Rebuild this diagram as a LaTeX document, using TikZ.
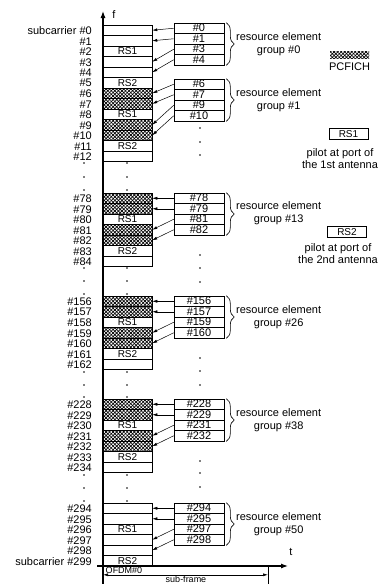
\documentclass[tikz,border=0pt]{standalone}
\usepackage{fontspec}
\setmainfont{Liberation Sans}
\usetikzlibrary{patterns.meta,decorations.pathreplacing,arrows.meta}
\begin{document}
\begin{tikzpicture}[x=1pt,y=-1pt,
  every node/.style={font=\fontsize{11}{12}\selectfont, inner sep=0pt},
  cell/.style={draw, line width=0.5pt, minimum width=49pt, minimum height=10.5pt, text height=7pt, text depth=0pt, font=\fontsize{10}{12}\selectfont},
  hatchfill/.style={pattern={Lines[angle=45,distance=2.5pt,line width=0.7pt]}, postaction={pattern={Lines[angle=-45,distance=2.5pt,line width=0.7pt]}}},
  hcell/.style={cell, hatchfill},
  rcell/.style={draw, line width=0.6pt, minimum width=50pt, minimum height=10.5pt, text height=7pt, text depth=0pt, font=\fontsize{11}{12}\selectfont},
  lab/.style={anchor=east},
  conn/.style={line width=0.5pt, -{Latex[length=5pt,width=3pt]}},
  axisline/.style={line width=1.1pt},
  brc/.style={decorate, decoration={brace, amplitude=8pt}, line width=0.6pt},
  desc/.style={anchor=west, align=center, font=\fontsize{11}{13.5}\selectfont},
  legbox/.style={draw, line width=0.6pt, minimum width=39pt, minimum height=11pt, text height=7pt, text depth=0pt, font=\fontsize{10}{12}\selectfont},
]
\useasboundingbox (0,0) rectangle (378,584);

% ---------- main column: group 0 ----------
\foreach \k/\st/\tx [count=\c from 0] in {0/cell/{},1/cell/{},2/cell/RS1,3/cell/{},4/cell/{},5/cell/RS2,6/hcell/{},7/hcell/{},8/cell/RS1,9/hcell/{},10/hcell/{},11/cell/RS2,12/cell/{}}
  \node[\st] (m\k) at (127.5,{25+5.25+10.5*\c}) {\tx};
\node[lab] (l0) at (92,30.75) {subcarrier \#0};
\foreach \k [count=\c from 1] in {1,...,12}
  \node[lab] (l\k) at (92,{25+5.75+10.5*\c}) {\#\k};

% ---------- groups 1..3 ----------
\foreach \k/\st/\tx [count=\c from 0] in {78/hcell/{},79/hcell/{},80/cell/RS1,81/hcell/{},82/hcell/{},83/cell/RS2,84/cell/{}}
  \node[\st] (m\k) at (127.5,{193+5.25+10.5*\c}) {\tx};
\foreach \k [count=\c from 0] in {78,...,84}
  \node[lab] (l\k) at (92,{193+5.75+10.5*\c}) {\#\k};

\foreach \k/\st/\tx [count=\c from 0] in {156/hcell/{},157/hcell/{},158/cell/RS1,159/hcell/{},160/hcell/{},161/cell/RS2,162/cell/{}}
  \node[\st] (m\k) at (127.5,{296+5.25+10.5*\c}) {\tx};
\foreach \k [count=\c from 0] in {156,...,162}
  \node[lab] (l\k) at (92,{296+5.75+10.5*\c}) {\#\k};

\foreach \k/\st/\tx [count=\c from 0] in {228/hcell/{},229/hcell/{},230/cell/RS1,231/hcell/{},232/hcell/{},233/cell/RS2,234/cell/{}}
  \node[\st] (m\k) at (127.5,{399+5.25+10.5*\c}) {\tx};
\foreach \k [count=\c from 0] in {228,...,234}
  \node[lab] (l\k) at (92,{399+5.75+10.5*\c}) {\#\k};

% ---------- group 4 ----------
\foreach \k/\st/\tx [count=\c from 0] in {294/cell/{},295/cell/{},296/cell/RS1,297/cell/{},298/cell/{},299/cell/RS2}
  \node[\st] (m\k) at (127.5,{503+5.25+10.5*\c}) {\tx};
\foreach \k [count=\c from 0] in {294,...,298}
  \node[lab] (l\k) at (92,{503+5.75+10.5*\c}) {\#\k};
\node[lab] (l299) at (92,561.25) {subcarrier \#299};

% ---------- resource element groups ----------
\foreach \k [count=\c from 0] in {0,1,3,4}
  \node[rcell] (q\k) at (199,{23+5.25+10.5*\c}) {\#\k};
\foreach \k [count=\c from 0] in {6,7,9,10}
  \node[rcell] (q\k) at (199,{79+5.25+10.5*\c}) {\#\k};
\foreach \k [count=\c from 0] in {78,79,81,82}
  \node[rcell] (q\k) at (199,{193+5.25+10.5*\c}) {\#\k};
\foreach \k [count=\c from 0] in {156,157,159,160}
  \node[rcell] (q\k) at (199,{296+5.25+10.5*\c}) {\#\k};
\foreach \k [count=\c from 0] in {228,229,231,232}
  \node[rcell] (q\k) at (199,{399+5.25+10.5*\c}) {\#\k};
\foreach \k [count=\c from 0] in {294,295,297,298}
  \node[rcell] (q\k) at (199,{503+5.25+10.5*\c}) {\#\k};

\foreach \k in {0,1,3,4,6,7,9,10,78,79,81,82,156,157,159,160,228,229,231,232,294,295,297,298}
  \draw[conn] (q\k.west) -- (m\k.east);

% braces and descriptions
\foreach \a/\b/\g/\y in {0/4/0/44, 6/10/1/100, 78/82/13/213, 156/160/26/317, 228/232/38/420, 294/298/50/524}{
  \draw[brc] ([xshift=2pt]q\a.north east) -- ([xshift=2pt]q\b.south east);
  \node[desc] (d\g) at (236,\y) {resource element\\group \#\g};
}

% ---------- dots ----------
\foreach \y in {163,177,190,268,281,294,372,385,397,475,488,501}{
  \fill (84,\y) circle (0.9pt);
  \fill (127,\y) circle (0.9pt);
}
\foreach \y in {128,142,155,255,268,282,358,371,385,461,473,487}
  \fill (200,\y) circle (0.9pt);

% ---------- axes ----------
\coordinate (abot) at (103,584);
\coordinate (ftip) at (103,11);
\draw[axisline,-{Latex[length=7pt,width=5pt]}] (abot) -- (ftip);
\node (fl) at (114,15) {f};
\coordinate (tl) at (97,566);
\coordinate (tr) at (288,566);
\draw[axisline,-{Latex[length=7pt,width=5pt]}] (tl) -- (tr);
\node (tlab) at (291,552) {t};

% sub-frame dimension
\coordinate (d1) at (103,574.8);
\coordinate (d2) at (268,574.8);
\coordinate (k1) at (268,566);
\coordinate (k2) at (268,584);
\draw[line width=0.5pt] (k1) -- (k2);
\draw[line width=0.6pt,{Latex[length=5pt,width=3pt]}-{Latex[length=5pt,width=3pt]}] (d1) -- (d2);
\node[font=\fontsize{9}{10}\selectfont] (ofdm) at (124,570.3) {OFDM\#0};
\node[anchor=north, font=\fontsize{9}{10}\selectfont] (sf) at (186,575.6) {sub-frame};

% ---------- legend ----------
\node[hatchfill, minimum width=39pt, minimum height=7pt] (pcf) at (349.5,54.5) {};
\node (pcft) at (349.5,67) {PCFICH};
\node[legbox] (rs1) at (348.5,133.5) {RS1};
\node[align=center] (rs1t) at (340,159) {pilot at port of\\the 1st antenna};
\node[legbox] (rs2) at (347,231.5) {RS2};
\node[align=center] (rs2t) at (338,254) {pilot at port of\\the 2nd antenna};
\end{tikzpicture}
\end{document}
